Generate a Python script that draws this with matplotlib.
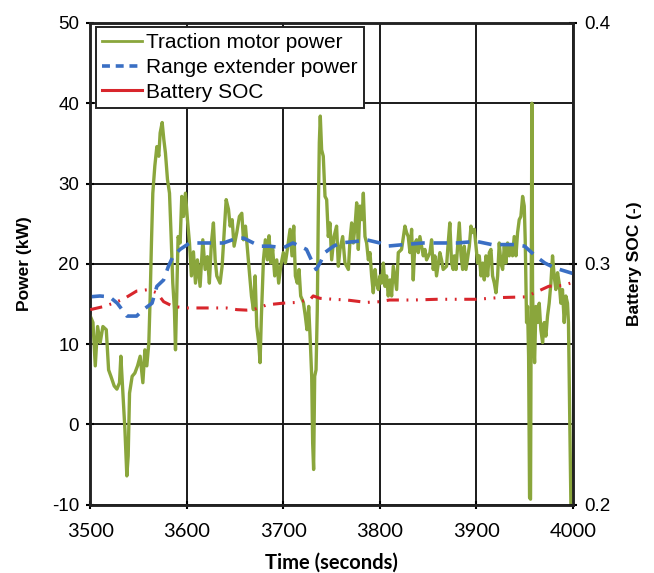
import matplotlib.pyplot as plt
from matplotlib.lines import Line2D

plt.rcParams['axes.unicode_minus'] = False

# traction motor power (kW)
motor_t = [3500, 3502.8, 3505.2, 3507.6, 3510.3, 3513.1, 3516.6, 3519, 3521.4, 3524.8,
           3527.6, 3530.3, 3531.7, 3533.8, 3535.9, 3537.9, 3539.3, 3540.7, 3543.4, 3546.2,
           3549, 3551.7, 3554.5, 3556.6, 3558.6, 3560.7, 3562.1, 3563.4, 3564.8, 3566.9,
           3569, 3571, 3572.4, 3574.5, 3576.2, 3577.9, 3580, 3582.1, 3583.8, 3585.5,
           3587.2, 3588.3, 3589.7, 3591, 3593.1, 3594.8, 3596.6, 3598.6, 3600.7, 3602.8,
           3604.8, 3606.9, 3609, 3611, 3613.8, 3616.6, 3619, 3621.4, 3623.4, 3625.5,
           3627.6, 3629.4, 3631.1, 3634.5, 3636.6, 3638.7, 3640.8, 3643.2, 3644.9, 3647,
           3649, 3651.8, 3654.5, 3657, 3658.7, 3660.8, 3662.8, 3664.9, 3667, 3669,
           3670.8, 3672.5, 3674.5, 3675.9, 3677.3, 3679.4, 3681.4, 3683.5, 3685.2, 3687,
           3689, 3691.1, 3693.2, 3695.2, 3697.3, 3700, 3702.1, 3704.2, 3707, 3709,
           3710.8, 3712.5, 3714.5, 3716.3, 3718, 3720.8, 3722.8, 3724.5, 3726.3, 3728,
           3729.4, 3730.4, 3731.4, 3732.5, 3733.9, 3735.2, 3736.3, 3737.3, 3738.3, 3739.7,
           3741.4, 3743.2, 3744.9, 3746.6, 3748.3, 3750.1, 3752.5, 3755.2, 3757, 3758.7,
           3761.5, 3763.9, 3767.4, 3769.1, 3770.8, 3772.5, 3774.3, 3776, 3777.7, 3779.4,
           3781.5, 3782.9, 3784.6, 3786.3, 3788.1, 3789.8, 3791.5, 3793.2, 3795, 3796.7,
           3798.4, 3800.1, 3801.8, 3803.6, 3805.3, 3807, 3808.7, 3810.5, 3812.2, 3813.9,
           3817.4, 3819.1, 3822.5, 3826, 3827.7, 3829.4, 3831.2, 3832.9, 3834.6, 3836.3,
           3838.1, 3839.8, 3841.5, 3845, 3846.7, 3848.4, 3851.9, 3853.6, 3855.3, 3857,
           3858.7, 3862.2, 3863.9, 3865.6, 3869.1, 3870.8, 3872.5, 3874.3, 3876, 3877.2,
           3878.9, 3882.3, 3884.1, 3885.8, 3887.5, 3889.2, 3892.7, 3894.4, 3896.1, 3897.9,
           3899.6, 3901.3, 3903, 3904.8, 3906.5, 3908.2, 3909.9, 3911.7, 3913.4, 3915.1,
           3916.8, 3918.6, 3920.3, 3922, 3923.7, 3925.4, 3927.2, 3928.9, 3930.6, 3932.3,
           3934.1, 3935.8, 3937.5, 3939.2, 3941, 3942.7, 3944.4, 3946.1, 3947.9, 3949.6,
           3950.6, 3952, 3953, 3954.1, 3955.1, 3956.1, 3956.8, 3957.5, 3958.2, 3959.2,
           3960.3, 3961.7, 3963.4, 3965.1, 3966.8, 3968.6, 3970.3, 3972, 3973.7, 3975.4,
           3977.2, 3978.9, 3980.6, 3982.3, 3984.1, 3985.8, 3987.5, 3989.2, 3991, 3992.7,
           3994.4, 3995.4, 3996.8, 3997.9, 3999]
motor_kw = [13.5, 12.7, 7.3, 12.2, 10.2, 12.2, 11.8, 6.8, 6.0, 4.8,
            4.4, 5.2, 8.5, 3.9, -0.6, -6.4, -3.9, 3.9, 6.0, 6.4,
            7.3, 8.5, 5.2, 9.3, 7.3, 10.2, 16.0, 22.6, 28.8, 32.2,
            34.6, 33.4, 36.3, 37.6, 35.5, 33.8, 30.5, 28.8, 23.4, 17.6,
            14.3, 9.3, 16.8, 23.4, 22.6, 28.4, 25.9, 28.8, 25.5, 22.6,
            18.5, 21.5, 17.6, 20.5, 17.2, 23.0, 19.3, 20.9, 17.6, 22.6,
            25.1, 20.5, 18.5, 17.6, 19.7, 23.9, 28.0, 26.8, 24.7, 25.5,
            22.2, 23.9, 25.9, 26.3, 23.0, 24.7, 21.8, 18.9, 16.0, 14.3,
            18.5, 12.2, 10.2, 7.7, 13.5, 20.5, 23.0, 20.5, 23.5, 20.1,
            21.8, 18.5, 20.5, 17.6, 19.7, 21.4, 20.1, 21.8, 24.3, 21.0,
            24.7, 18.5, 17.6, 19.3, 16.0, 15.2, 13.5, 11.8, 14.7, 10.2,
            6.0, -2.3, -5.6, 6.0, 6.8, 14.3, 26.8, 35.1, 38.4, 34.2,
            33.4, 28.4, 28.0, 23.4, 25.1, 20.5, 23.4, 24.7, 19.7, 21.8,
            23.4, 20.1, 19.3, 23.0, 25.1, 22.6, 24.7, 27.6, 21.8, 27.2,
            25.5, 28.8, 23.4, 22.6, 20.5, 21.4, 18.5, 16.4, 19.3, 17.6,
            16.8, 18.5, 17.6, 20.1, 17.2, 18.5, 16.0, 18.0, 16.0, 19.7,
            16.8, 21.4, 21.8, 24.7, 23.9, 23.4, 21.4, 24.3, 18.0, 22.6,
            23.0, 21.4, 23.4, 21.0, 21.8, 20.5, 21.4, 23.0, 19.3, 21.0,
            18.5, 21.4, 20.5, 19.3, 19.7, 22.6, 25.1, 20.1, 19.3, 21.0,
            19.3, 25.1, 21.0, 19.3, 22.2, 19.3, 22.2, 24.7, 23.9, 24.3,
            22.2, 20.1, 21.0, 18.5, 20.1, 18.0, 21.0, 18.5, 21.4, 21.8,
            18.5, 17.6, 16.4, 18.5, 22.6, 20.1, 19.3, 22.2, 20.1, 22.6,
            21.0, 22.2, 21.0, 23.4, 21.0, 23.9, 25.5, 25.9, 28.4, 27.2,
            23.0, 12.7, 14.7, 8.5, -9.1, -9.3, 16.8, 40.0, 16.8, 10.6,
            7.7, 14.7, 12.7, 15.1, 11.8, 10.2, 12.7, 11.0, 13.5, 15.1,
            17.6, 21.0, 18.5, 16.8, 18.9, 17.6, 15.1, 16.8, 12.7, 16.0,
            15.1, 12.7, 0.3, -9.8, -10.0]

# range extender power (kW)
rex_t = [3500, 3510, 3520, 3528, 3538, 3548, 3555, 3564, 3569, 3576,
         3581, 3586, 3593, 3603, 3628, 3638, 3652, 3659, 3669, 3676,
         3686, 3700, 3710, 3717, 3724, 3729, 3734, 3738, 3743, 3752,
         3759, 3776, 3786, 3800, 3807, 3825, 3845, 3862, 3880, 3900,
         3916, 3940, 3950, 3961, 3971, 3981, 4000]
rex_kw = [15.9, 16.0, 15.9, 15.1, 13.5, 13.5, 14.3, 15.1, 17.2, 18.0,
          19.7, 21.0, 21.8, 22.6, 22.6, 22.6, 23.2, 23.2, 22.6, 22.2,
          22.2, 22.0, 22.6, 22.2, 21.8, 20.5, 19.3, 20.1, 21.4, 22.2,
          22.6, 22.8, 23.0, 22.6, 22.2, 22.4, 22.6, 22.6, 22.6, 22.8,
          22.4, 22.4, 22.2, 21.0, 20.1, 19.5, 18.8]

# battery state of charge (-)
soc_t = [3500, 3514, 3524, 3534, 3548, 3560, 3569, 3576, 3586, 3600,
         3614, 3628, 3641, 3652, 3662, 3669, 3683, 3700, 3714, 3728,
         3731, 3738, 3752, 3766, 3786, 3800, 3810, 3835, 3859, 3880,
         3900, 3924, 3951, 3962, 3975, 3989, 4000]
soc = [0.2810, 0.2823, 0.2837, 0.2853, 0.2887, 0.2893, 0.2880, 0.2843, 0.2823, 0.2817,
       0.2817, 0.2817, 0.2817, 0.2810, 0.2808, 0.2810, 0.2830, 0.2837, 0.2840, 0.2853,
       0.2867, 0.2857, 0.2853, 0.2850, 0.2840, 0.2843, 0.2850, 0.2850, 0.2853, 0.2853,
       0.2853, 0.2860, 0.2863, 0.2883, 0.2907, 0.2910, 0.2923]

x_ticks = [3500, 3600, 3700, 3800, 3900, 4000]
kw_ticks = [-10, 0, 10, 20, 30, 40, 50]
soc_ticks = [0.2, 0.3, 0.4]

green = '#8aa63c'
blue = '#3a6fc4'
red = '#d8262c'

fig = plt.figure(figsize=(6.54, 5.73), dpi=100)
ax = fig.add_axes([0.138, 0.119, 0.738, 0.841])
ax2 = ax.twinx()

ax.plot(motor_t, motor_kw, color=green, lw=2.4, zorder=3)
ax.plot(rex_t, rex_kw, color=blue, lw=2.6, dashes=(3.8, 2.4), zorder=4)
ax2.plot(soc_t, soc, color=red, lw=2.2, dashes=(4, 2.5, 0.6, 2.5, 0.6, 2.5), zorder=4)

ax.set_xlim(3500, 4000)
ax.set_ylim(-10, 50)
ax2.set_ylim(0.2, 0.4)
ax.set_xticks(x_ticks)
ax.set_yticks(kw_ticks)
ax2.set_yticks(soc_ticks)
ax2.set_yticklabels([f'{v:.1f}' for v in soc_ticks])

ax.grid(True, color='#1a1a1a', lw=1.4)
ax.set_axisbelow(True)
for a in (ax, ax2):
    for s in a.spines.values():
        s.set_linewidth(1.8)
        s.set_color('#222222')
ax.tick_params(axis='y', direction='inout', length=6, width=1.5, labelsize=13.5, pad=5)
ax.tick_params(axis='x', direction='inout', length=6, width=1.5, labelsize=14.5, pad=10)
ax2.tick_params(axis='y', direction='inout', length=6, width=1.5, labelsize=13.5, pad=5)
for lab in ax.get_yticklabels() + ax2.get_yticklabels():
    lab.set_fontfamily('Liberation Sans')
for lab in ax.get_xticklabels():
    lab.set_fontfamily('Lato')

ax.set_xlabel('Time (seconds)', fontsize=14.5, fontweight='bold', family='Lato', labelpad=9)
ax.set_ylabel('Power (kW)', fontsize=12.5, fontweight='bold', family='Liberation Sans', labelpad=14)
ax2.set_ylabel('Battery SOC (-)', fontsize=12.5, fontweight='bold', family='Liberation Sans', labelpad=12)

handles = [Line2D([], [], color=green, lw=2),
           Line2D([], [], color=blue, lw=2.6, dashes=(2.2, 1.6)),
           Line2D([], [], color=red, lw=2.2)]
leg = ax2.legend(handles, ['Traction motor power', 'Range extender power', 'Battery SOC'],
                 loc='upper left', bbox_to_anchor=(0.012, 0.992), fancybox=False,
                 edgecolor='#222222', framealpha=1, handlelength=1.9, handletextpad=0.2,
                 borderpad=0.3, labelspacing=0.28, borderaxespad=0,
                 prop={'family': 'Liberation Sans', 'size': 15})
leg.get_frame().set_linewidth(1.4)

fig.savefig('out.png', dpi=100)
